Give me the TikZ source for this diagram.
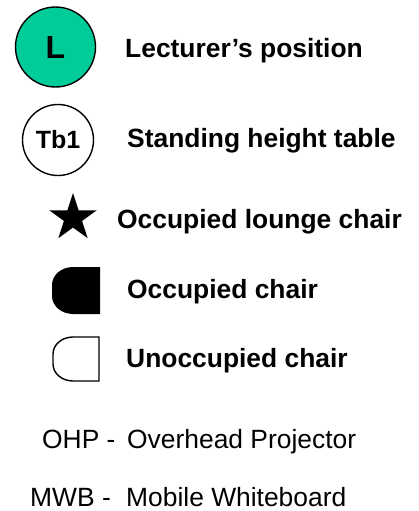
\documentclass[tikz,border=0pt]{standalone}
\usepackage{fontspec}
\setmainfont{Liberation Sans}
\definecolor{lectgreen}{RGB}{0, 204, 153}
\usetikzlibrary{shapes.geometric, positioning}

\begin{document}
\begin{tikzpicture}[x=1pt, y=-1pt,
    keytext/.style={anchor=base west, inner sep=0pt, font=\fontsize{26.4}{30}\selectfont\bfseries},
    abbrtext/.style={anchor=base west, inner sep=0pt, font=\fontsize{26.4}{30}\selectfont},
    marker/.style={circle, draw=black, line width=1.4pt, inner sep=0pt, font=\bfseries}]
  \useasboundingbox (0, 0) rectangle (418, 511);

  % === lecturer ===
  \node[marker, fill=lectgreen, minimum size=80pt, font=\fontsize{32}{36}\selectfont\bfseries] (lect) at (55.5, 47) {L};
  \node[keytext] (lecttxt) at (125, 58) {Lecturer’s position};

  % === table ===
  \node[marker, minimum size=71pt, font=\fontsize{25}{28}\selectfont\bfseries] (table) at (58, 140) {Tb1};
  \node[keytext] (tabletxt) at (127, 147) {Standing height table};

  % === lounge chair ===
  \node[star, star points=5, star point ratio=2.618, fill=black, minimum size=50pt, inner sep=0pt] (lounge) at (73, 218) {};
  \node[keytext] (loungetxt) at (117, 228) {Occupied lounge chair};

  % === chairs ===
  \fill[black] (100, 267) -- (100, 314) -- (73, 314) arc[start angle=90, end angle=180, x radius=21, y radius=18]
    -- (52, 285) arc[start angle=180, end angle=270, x radius=21, y radius=18] -- cycle;
  \node[keytext] (occtxt) at (127, 298) {Occupied chair};

  \draw[line width=1.4pt] (99, 337) -- (99, 381) -- (73, 381) arc[start angle=90, end angle=180, x radius=20, y radius=17]
    -- (53, 354) arc[start angle=180, end angle=270, x radius=20, y radius=17] -- cycle;
  \node[keytext] (freetxt) at (126, 367) {Unoccupied chair};

  % === abbreviations ===
  \node[abbrtext] (ohp) at (42, 448) {OHP -};
  \node[abbrtext] (ohptxt) at (127, 448) {Overhead Projector};
  \node[abbrtext] (mwb) at (30, 506) {MWB -};
  \node[abbrtext] (mwbtxt) at (126, 506) {Mobile Whiteboard};
\end{tikzpicture}
\end{document}
